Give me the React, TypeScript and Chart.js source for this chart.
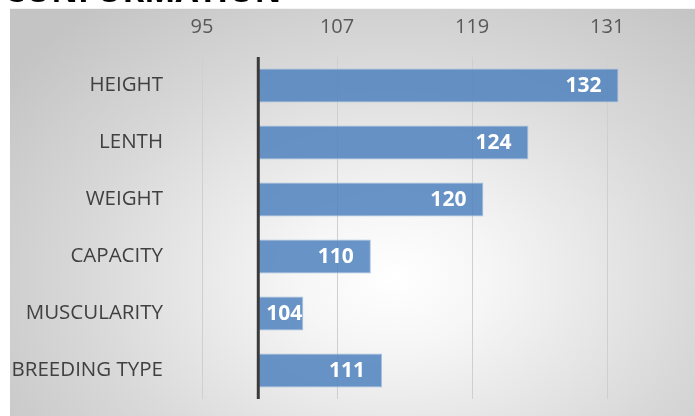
import React, { useEffect, useRef } from "react";
import { Chart, registerables } from "chart.js";

Chart.register(...registerables);

const categories = ["HEIGHT", "LENTH", "WEIGHT", "CAPACITY", "MUSCULARITY", "BREEDING TYPE"];
const values = [132, 124, 120, 110, 104, 111];
const baseValue = 100;
const tickValues = [95, 107, 119, 131];
const titleText = "CONFORMATION";

const FONT = "'Open Sans', 'DejaVu Sans', sans-serif";

const baseLinePlugin = {
  id: "baseLine",
  afterDatasetsDraw(chart: any) {
    const { ctx, chartArea, scales } = chart;
    const x = scales.x.getPixelForValue(baseValue);
    ctx.save();
    ctx.strokeStyle = "#3a3a3a";
    ctx.lineWidth = 3;
    ctx.beginPath();
    ctx.moveTo(x, chartArea.top);
    ctx.lineTo(x, chartArea.bottom);
    ctx.stroke();
    ctx.restore();
  },
};

const labelPlugin = {
  id: "barLabels",
  afterDatasetsDraw(chart: any) {
    const { ctx } = chart;
    const meta = chart.getDatasetMeta(0);
    ctx.save();
    ctx.font = `bold 21px ${FONT}`;
    ctx.fillStyle = "#ffffff";
    ctx.textBaseline = "middle";
    ctx.textAlign = "left";
    meta.data.forEach((bar: any, i: number) => {
      const text = String(values[i]);
      const w = ctx.measureText(text).width;
      const end = bar.x;
      const start = bar.base;
      let left = end - 17 - w;
      if (left < start + 8) left = start + 8;
      ctx.fillText(text, left, bar.y + 1);
    });
    ctx.restore();
  },
};

export default function App() {
  const canvasRef = useRef<HTMLCanvasElement | null>(null);

  useEffect(() => {
    if (!canvasRef.current) return;
    const chart = new Chart(canvasRef.current, {
      type: "bar",
      data: {
        labels: categories,
        datasets: [
          {
            data: values,
            base: baseValue,
            backgroundColor: "rgba(79,129,189,0.85)",
            borderColor: "rgba(160,188,222,0.9)",
            borderWidth: 1,
            borderSkipped: false,
            categoryPercentage: 1,
            barPercentage: 0.6,
          } as any,
        ],
      },
      options: {
        indexAxis: "y",
        animation: false,
        responsive: false,
        maintainAspectRatio: false,
        layout: { padding: { top: 13, bottom: 17, left: 0, right: 9 } },
        plugins: {
          legend: { display: false },
          tooltip: { enabled: false },
          title: { display: false },
        },
        scales: {
          x: {
            position: "top",
            min: 95,
            max: 138,
            afterBuildTicks(scale: any) {
              scale.ticks = tickValues.map((v) => ({ value: v }));
            },
            afterFit(scale: any) {
              scale.height = 44;
            },
            grid: {
              color: "#cfcfcf",
              lineWidth: 1,
              drawTicks: true,
              tickLength: 18,
              tickColor: "rgba(0,0,0,0)",
            },
            border: { display: false },
            ticks: {
              padding: 0,
              color: "#595959",
              font: { family: FONT, size: 20 },
              callback: (v: any) => String(v),
            },
          },
          y: {
            afterFit(scale: any) {
              scale.width = 202;
            },
            grid: {
              display: true,
              drawOnChartArea: false,
              drawTicks: true,
              tickLength: 39,
              tickColor: "rgba(0,0,0,0)",
              color: "rgba(0,0,0,0)",
            },
            border: { display: false },
            ticks: {
              padding: 0,
              color: "#404040",
              font: { family: FONT, size: 20.5 },
            },
          },
        },
      },
      plugins: [baseLinePlugin, labelPlugin],
    });
    return () => chart.destroy();
  }, []);

  return (
    <div
      style={{
        position: "absolute",
        left: 0,
        top: 0,
        width: 695,
        height: 416,
        overflow: "hidden",
        background: "#ffffff",
      }}
    >
      <div
        style={{
          position: "absolute",
          left: 10,
          top: 8,
          right: 0,
          bottom: 0,
          zIndex: 0,
          background:
            "radial-gradient(ellipse 70% 85% at 56% 66%, #ffffff 0%, #f6f6f6 20%, #d8d8d8 65%, #c4c4c4 100%)",
          borderTop: "1px solid #f4f4f4",
        }}
      />
      <canvas
        ref={canvasRef}
        width={695}
        height={416}
        style={{ position: "absolute", left: 0, top: 0, width: 695, height: 416, zIndex: 1 }}
      />
      <div
        style={{
          position: "absolute",
          left: 4,
          top: -22,
          zIndex: 2,
          fontFamily: FONT,
          fontWeight: 700,
          fontSize: 33,
          lineHeight: "24px",
          height: 24,
          color: "#000000",
          whiteSpace: "nowrap",
        }}
      >
        {titleText}
      </div>
    </div>
  );
}
